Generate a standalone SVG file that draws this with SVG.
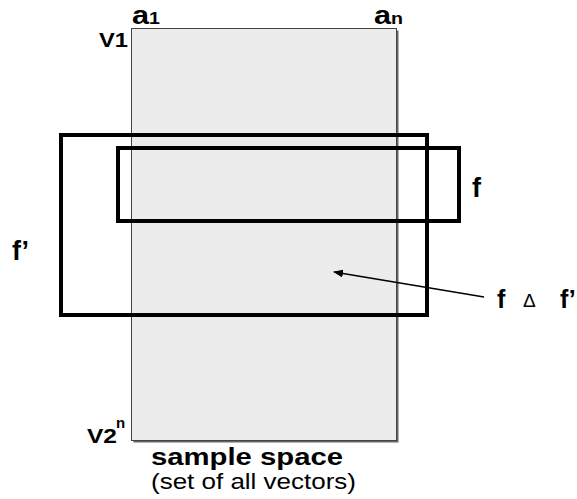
<svg xmlns="http://www.w3.org/2000/svg" width="577" height="499" viewBox="0 0 577 499">
<style>
.lbl{font-family:"Liberation Sans",Arial,sans-serif;font-weight:bold;fill:#000}
.reg{font-family:"Liberation Sans",Arial,sans-serif;font-weight:normal;fill:#000}
.box{fill:none;stroke:#000;stroke-width:4}
</style>
<defs>
<marker id="ah" markerWidth="10" markerHeight="8" refX="9" refY="4" orient="auto" markerUnits="userSpaceOnUse">
<path d="M0,0 L10,4 L0,8 Z" fill="#000"/>
</marker>
</defs>
<rect width="577" height="499" fill="#fff"/>
<g id="sample-space">
<rect x="133.5" y="30.5" width="265" height="412" fill="#666"/>
<rect x="131.5" y="28.5" width="265" height="412" fill="#ececec" stroke="#444" stroke-width="1"/>
<text class="lbl" x="132" y="23.5" font-size="25" textLength="28" lengthAdjust="spacingAndGlyphs">a<tspan font-size="16">1</tspan></text>
<text class="lbl" x="374" y="23.5" font-size="25" textLength="29" lengthAdjust="spacingAndGlyphs">a<tspan font-size="16">n</tspan></text>
<text class="lbl" x="99" y="46.5" font-size="21" textLength="29" lengthAdjust="spacingAndGlyphs">V1</text>
<text class="lbl" x="87" y="443" font-size="21" textLength="30" lengthAdjust="spacingAndGlyphs">V2</text>
<text class="lbl" x="116" y="428" font-size="15">n</text>
<text class="lbl" x="151" y="465" font-size="23" textLength="192" lengthAdjust="spacingAndGlyphs">sample space</text>
<text class="reg" x="151" y="489" font-size="22" textLength="205" lengthAdjust="spacingAndGlyphs">(set of all vectors)</text>
</g>
<g id="f-prime">
<rect class="box" x="61" y="135" width="366" height="180"/>
<text class="lbl" x="12" y="260" font-size="27">f’</text>
</g>
<g id="f">
<rect class="box" x="118" y="148" width="341" height="73"/>
<text class="lbl" x="472" y="197" font-size="27">f</text>
</g>
<g id="sym-diff">
<text class="lbl" x="497" y="308" font-size="25">f</text>
<text class="reg" x="523" y="307" font-size="19">Δ</text>
<text class="lbl" x="560" y="308" font-size="25">f’</text>
</g>
<g id="connectors">
<line x1="484" y1="297" x2="334" y2="272" stroke="#000" stroke-width="1.5" marker-end="url(#ah)"/>
</g>
</svg>
